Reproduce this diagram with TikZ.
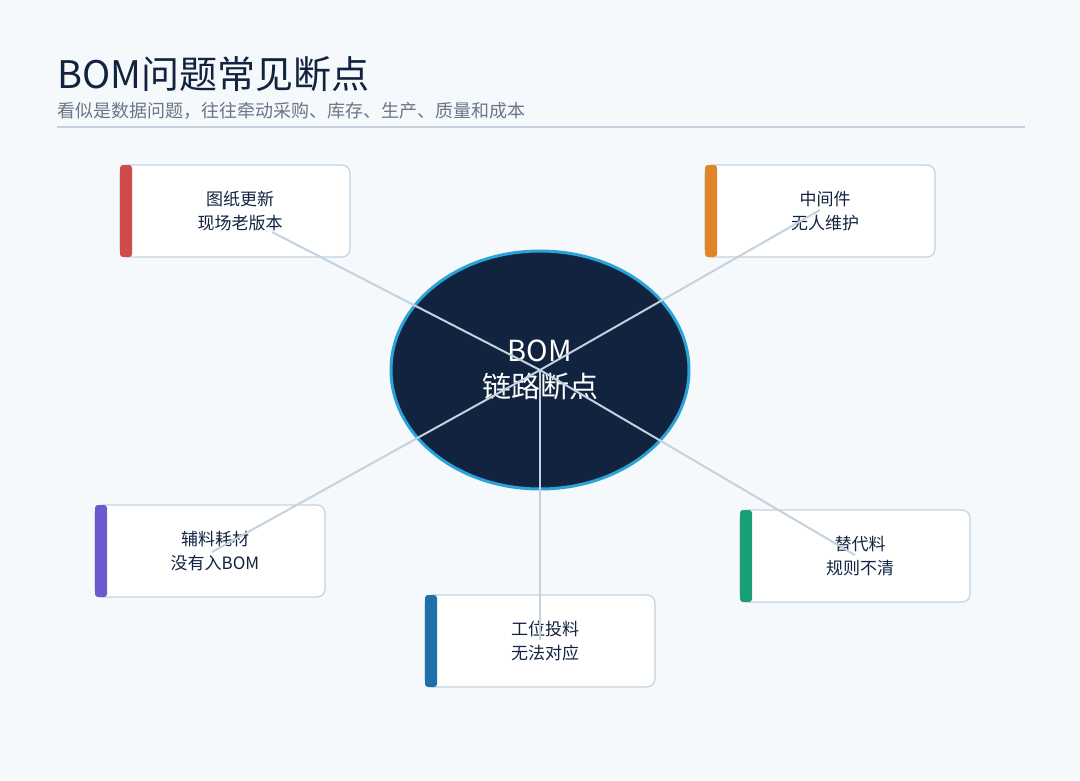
\documentclass[tikz,border=0pt]{standalone}
\usepackage{fontspec}
\setmainfont{Noto Sans CJK SC}
\definecolor{bg}{HTML}{F5F9FC}
\definecolor{navy}{HTML}{12233F}
\definecolor{ring}{HTML}{2AA3D8}
\definecolor{edge}{HTML}{C3D2DE}
\definecolor{sub}{HTML}{6B7785}
\definecolor{cA}{HTML}{D04B4B}
\definecolor{cB}{HTML}{E0842A}
\definecolor{cC}{HTML}{6A5ACD}
\definecolor{cD}{HTML}{1F6FAA}
\definecolor{cE}{HTML}{1A9E74}
\begin{document}
\begin{tikzpicture}[x=1pt,y=-1pt,
  box/.style={draw=edge,line width=1.2pt,fill=white,rounded corners=8pt},
  lbl/.style={align=center,text=navy,font=\fontsize{17}{24}\selectfont},
  link/.style={draw=edge,line width=2pt}]
\useasboundingbox (0,0) rectangle (1080,780);
\fill[bg] (0,0) rectangle (1080,780);
\node[anchor=base west,text=navy,inner sep=0,font=\fontsize{38}{40}\selectfont] (title) at (57,88) {BOM问题常见断点};
\node[anchor=base west,text=sub,inner sep=0,font=\fontsize{18}{20}\selectfont] (subtitle) at (57,117) {看似是数据问题，往往牵动采购、库存、生产、质量和成本};
\draw[edge,line width=1.5pt] (57,127) -- (1025,127);
% boxes
\newcommand{\mybox}[5]{%
  \draw[box] (#1,#2) rectangle ++(230,92);
  \fill[#3,rounded corners=3pt] (#1,#2) rectangle ++(12,92);
  \node[lbl] (#4) at (#1+120,#2+46) {#5};}
\mybox{120}{165}{cA}{b1}{图纸更新\\现场老版本}
\mybox{705}{165}{cB}{b2}{中间件\\无人维护}
\mybox{95}{505}{cC}{b3}{辅料耗材\\没有入BOM}
\mybox{425}{595}{cD}{b4}{工位投料\\无法对应}
\mybox{740}{510}{cE}{b5}{替代料\\规则不清}
\draw[fill=navy,draw=ring,line width=3pt] (540,370) ellipse [x radius=149,y radius=119];
\node[align=center,text=white,font=\fontsize{29}{36}\selectfont] (hub) at (540,370) {BOM\\链路断点};
\coordinate (c) at (540,370);
\coordinate (e1) at (272,232);
\coordinate (e2) at (820,210);
\coordinate (e3) at (212,552);
\coordinate (e4) at (540,640);
\coordinate (e5) at (855,555);
\foreach \e in {e1,e2,e3,e4,e5} \draw[link] (c) -- (\e);
\end{tikzpicture}
\end{document}
